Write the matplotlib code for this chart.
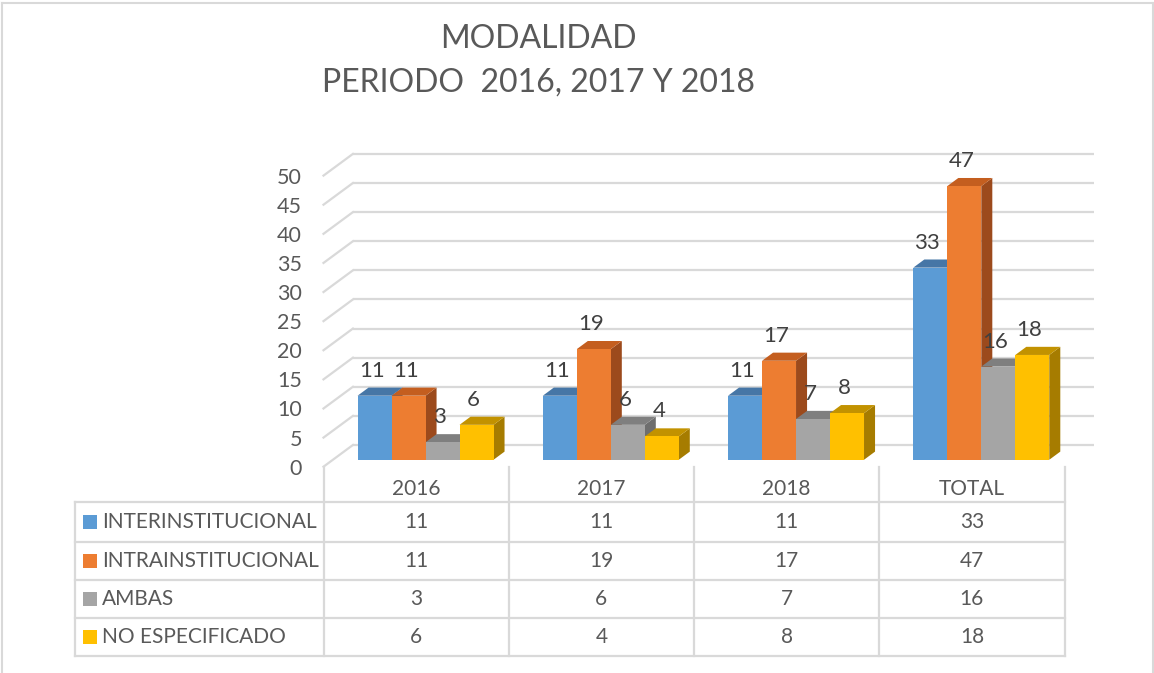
import matplotlib
matplotlib.use('Agg')
import matplotlib.pyplot as plt
from matplotlib.patches import Polygon, Rectangle
from matplotlib.transforms import offset_copy

# ---------------- data ----------------
categories = ['2016', '2017', '2018', 'TOTAL']
series_names = ['INTERINSTITUCIONAL', 'INTRAINSTITUCIONAL', 'AMBAS', 'NO ESPECIFICADO']
interinstitucional = [11, 11, 11, 33]
intrainstitucional = [11, 19, 17, 47]
ambas = [3, 6, 7, 16]
no_especificado = [6, 4, 8, 18]
y_ticks = [0, 5, 10, 15, 20, 25, 30, 35, 40, 45, 50]
title_lines = ['MODALIDAD', 'PERIODO  2016, 2017 Y 2018']

series_values = [interinstitucional, intrainstitucional, ambas, no_especificado]
front_colors = ['#5B9BD5', '#ED7D31', '#A5A5A5', '#FFC000']
top_colors = ['#4676A6', '#C45E1F', '#7F7F7F', '#C29200']
side_colors = ['#3E6892', '#9C4A1C', '#6E6E6E', '#A67C00']

FONT = ['Lato', 'DejaVu Sans']
plt.rcParams['font.family'] = FONT
TXT = '#595959'
GRID = '#D9D9D9'

W, H = 1154, 673
fig = plt.figure(figsize=(W / 100, H / 100), dpi=100)

# background axes in pixel coordinates (frame, title, table)
bg = fig.add_axes([0, 0, 1, 1])
bg.set_xlim(0, W)
bg.set_ylim(H, 0)
bg.axis('off')

# plot axes: front plane of the 3D box
PX_L, PX_R = 323.5, 1064.5
PX_Y0, PX_YTOP = 466.7, 175.6
ax = fig.add_axes([PX_L / W, 1 - PX_Y0 / H, (PX_R - PX_L) / W, (PX_Y0 - PX_YTOP) / H])
ncat = len(categories)
ax.set_xlim(0, ncat)
ax.set_ylim(0, 50)
ax.patch.set_visible(False)
for sp in ax.spines.values():
    sp.set_visible(False)
ax.set_xticks([])
ax.set_yticks(y_ticks)
ax.set_yticklabels([str(t) for t in y_ticks])
ax.tick_params(axis='y', length=0, pad=15.5, labelsize=15.5, labelcolor=TXT)

sx = (PX_R - PX_L) / ncat          # px per category unit
sy = (PX_Y0 - PX_YTOP) / 50.0       # px per value unit
DX, DY = 29.4, 21.7                 # depth of the box in px
ddx, ddy = DX / sx, DY / sy
f0, f1 = 0.32, 0.695                # bar front / back depth fraction

# back wall gridlines and side wall diagonals
for v in y_ticks:
    ax.plot([ddx, ncat + ddx], [v + ddy, v + ddy], color=GRID, lw=1.6,
            clip_on=False, zorder=1, solid_capstyle='butt')
    ax.plot([0, ddx], [v, v + ddy], color=GRID, lw=1.6, clip_on=False, zorder=1)

# bars
nser = len(series_values)
bw = 0.1835
ox, oy = f0 * ddx, f0 * ddy
bx, by = f1 * ddx, f1 * ddy
lab_tr = offset_copy(ax.transData, fig=fig, x=6.5, y=32, units='dots')
for i in range(ncat):
    start = i + (1 - nser * bw) / 2
    for s in range(nser):
        v = series_values[s][i]
        x0 = start + s * bw
        x1 = x0 + bw
        z = 10 + i + s * 0.1
        side = Polygon([(x1 + ox, oy), (x1 + bx, by), (x1 + bx, v + by), (x1 + ox, v + oy)],
                       closed=True, facecolor=side_colors[s], edgecolor='none',
                       clip_on=False, zorder=z)
        top = Polygon([(x0 + ox, v + oy), (x1 + ox, v + oy), (x1 + bx, v + by), (x0 + bx, v + by)],
                      closed=True, facecolor=top_colors[s], edgecolor='none',
                      clip_on=False, zorder=z + 0.01)
        ax.add_patch(side)
        ax.add_patch(top)
        bars = ax.bar([x0 + ox], [v], width=bw, bottom=oy, align='edge',
                      color=front_colors[s], edgecolor='none', zorder=z + 0.02)
        for b in bars:
            b.set_clip_on(False)
        ax.text((x0 + x1) / 2, v, str(v), transform=lab_tr, ha='center', va='center',
                fontsize=16, color='#404040', zorder=50, clip_on=False)

# ---------------- table ----------------
TAB_L = 75
row_lines = [502.3, 541.7, 580.0, 618.3, 656.0]
col_x = [PX_L + k * sx for k in range(ncat + 1)]
for yv in row_lines:
    bg.plot([TAB_L, PX_R], [yv, yv], color=GRID, lw=1.6, solid_capstyle='projecting')
bg.plot([TAB_L, TAB_L], [row_lines[0], row_lines[-1]], color=GRID, lw=1.6)
for xv in col_x:
    bg.plot([xv, xv], [PX_Y0, row_lines[-1]], color=GRID, lw=1.6)

for k, cat in enumerate(categories):
    cx = (col_x[k] + col_x[k + 1]) / 2
    bg.text(cx, 489, cat, ha='center', va='center', fontsize=15, color=TXT)

for r, name in enumerate(series_names):
    cy = (row_lines[r] + row_lines[r + 1]) / 2
    bg.add_patch(Rectangle((82.7, cy - 7), 14, 14, facecolor=front_colors[r], edgecolor='none'))
    bg.text(102, cy, name, ha='left', va='center', fontsize=15, color=TXT)
    for k in range(ncat):
        cx = (col_x[k] + col_x[k + 1]) / 2
        bg.text(cx, cy, str(series_values[r][k]), ha='center', va='center',
                fontsize=15, color=TXT)

# ---------------- title ----------------
bg.text(538.5, 39, title_lines[0], ha='center', va='center', fontsize=23, color=TXT)
bg.text(538.5, 83, title_lines[1], ha='center', va='center', fontsize=23, color=TXT)

# ---------------- outer frame ----------------
bg.plot([1.5, 1.5], [2.5, H], color=GRID, lw=1.5)
bg.plot([1.5, W - 1.5], [2.5, 2.5], color=GRID, lw=1.5)
bg.plot([W - 1.5, W - 1.5], [2.5, H], color=GRID, lw=1.5)

fig.savefig('out.png', dpi=100)
